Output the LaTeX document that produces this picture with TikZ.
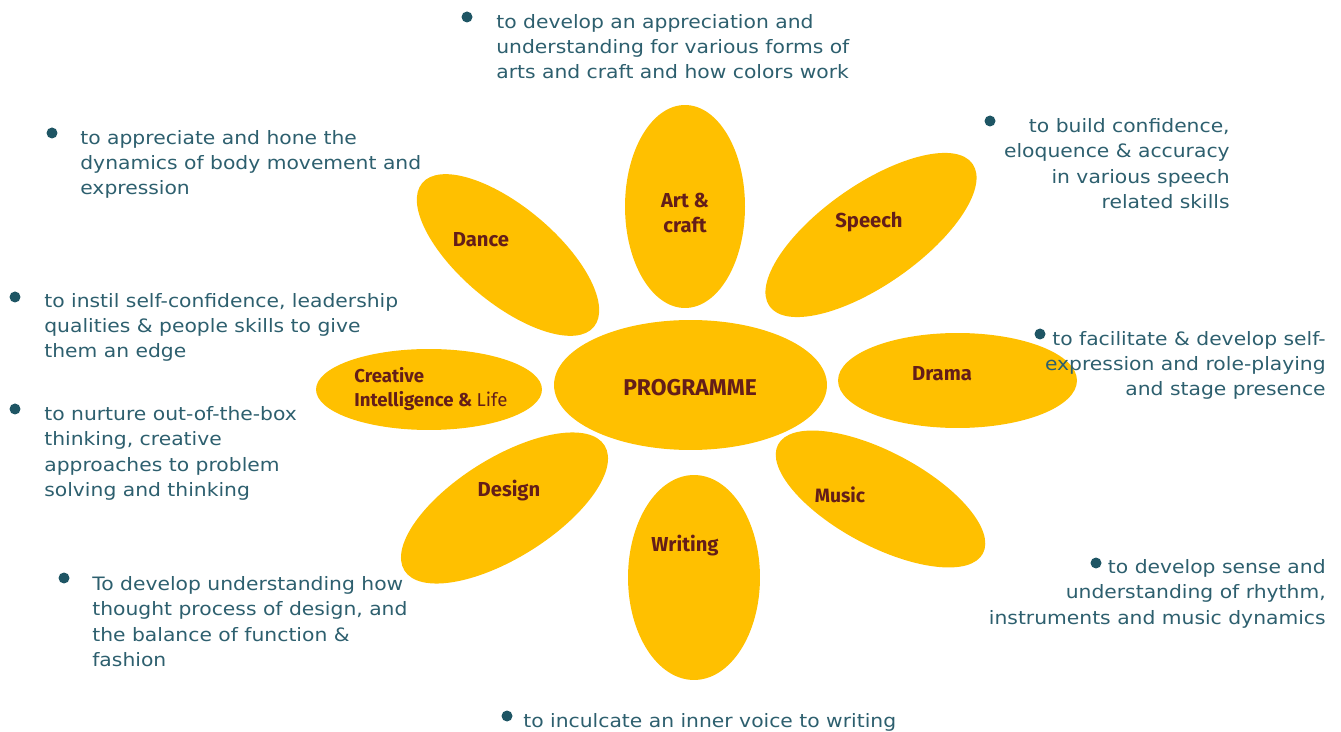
\documentclass[tikz,border=0pt]{standalone}
\usepackage{fontspec}
\usetikzlibrary{shapes.geometric}
\newfontfamily\notefont[FakeStretch=1.10]{DejaVu Sans}
\newfontfamily\petalfont{Fira Sans}
\definecolor{petalgold}{RGB}{255,192,0}
\definecolor{petalink}{RGB}{100,30,25}
\definecolor{noteink}{RGB}{45,95,110}
\definecolor{dotink}{RGB}{30,85,100}
\tikzset{
  petal/.style={ellipse, fill=petalgold, inner sep=0pt},
  petaltext/.style={text=petalink, font=\petalfont\bfseries\fontsize{11.5}{14.7}\selectfont, inner sep=0pt},
  note/.style={text=noteink, font=\notefont\fontsize{10.5}{14.5}\selectfont, inner sep=0pt},
  bulletdot/.style={circle, fill=dotink, minimum size=0.22cm, inner sep=0pt},
}
\begin{document}
\begin{tikzpicture}[x=0.02cm, y=-0.02cm]
  \useasboundingbox (0,0) rectangle (1341,732);
  % petals
  \node[petal, minimum width=2.4cm, minimum height=4.06cm] (art) at (685,206.5) {};
  \node[petal, minimum width=2.64cm, minimum height=4.1cm] (writing) at (694,577.5) {};
  \node[petal, minimum width=4.78cm, minimum height=1.9cm] (drama) at (957.5,380.5) {};
  \node[petal, minimum width=4.52cm, minimum height=1.62cm] (creative) at (429,389.5) {};
  \node[petal, minimum width=4.48cm, minimum height=1.92cm, rotate=-40] (dance) at (508,255) {};
  \node[petal, minimum width=4.96cm, minimum height=2cm, rotate=35] (speech) at (871,235) {};
  \node[petal, minimum width=4.72cm, minimum height=2cm, rotate=32] (design) at (504.5,508) {};
  \node[petal, minimum width=4.64cm, minimum height=1.88cm, rotate=-28] (music) at (880.5,499) {};
  \node[petal, minimum width=5.46cm, minimum height=2.6cm] (prog) at (690.5,385) {};
  % petal labels (base = last line)
  \node[petaltext, anchor=base, font=\petalfont\bfseries\fontsize{13}{15}\selectfont] (l-prog) at (690,396) {PROGRAMME};
  \node[petaltext, anchor=base, align=center] (l-art) at (685,233) {Art \&\\craft};
  \node[petaltext, anchor=base] (l-speech) at (869,228) {Speech};
  \node[petaltext, anchor=base] (l-dance) at (481,247) {Dance};
  \node[petaltext, anchor=base] (l-drama) at (942,381) {Drama};
  \node[petaltext, anchor=base west, align=left, font=\petalfont\bfseries\fontsize{10.6}{13.6}\selectfont] (l-creative) at (354,406.7) {Creative\\Intelligence \& {\mdseries Life}};
  \node[petaltext, anchor=base] (l-design) at (509,497) {Design};
  \node[petaltext, anchor=base, font=\petalfont\bfseries\fontsize{11}{13}\selectfont] (l-music) at (840,502) {Music};
  \node[petaltext, anchor=base] (l-writing) at (685,551) {Writing};
  % bullets
  \node[bulletdot] (b-art) at (467,17) {};
  \node[bulletdot] (b-dance) at (52,133) {};
  \node[bulletdot] (b-speech) at (990,121) {};
  \node[bulletdot] (b-instil) at (15,297) {};
  \node[bulletdot] (b-nurture) at (15,409) {};
  \node[bulletdot] (b-drama) at (1040,334) {};
  \node[bulletdot] (b-music) at (1096,563) {};
  \node[bulletdot] (b-design) at (64,578) {};
  \node[bulletdot] (b-writing) at (507,716) {};
  % notes (base = last line)
  \node[note, anchor=base west, align=left] (t-art) at (496,79)
    {to develop an appreciation and\\understanding for various forms of\\arts and craft and how colors work};
  \node[note, anchor=base west, align=left] (t-dance) at (80,195)
    {to appreciate and hone the\\dynamics of body movement and\\expression};
  \node[note, anchor=base east, align=right] (t-speech) at (1230,208.5)
    {to build confidence,\\eloquence \& accuracy\\in various speech\\related skills};
  \node[note, anchor=base west, align=left] (t-instil) at (44,358)
    {to instil self-confidence, leadership\\qualities \& people skills to give\\them an edge};
  \node[note, anchor=base west, align=left] (t-nurture) at (44,496.5)
    {to nurture out-of-the-box\\thinking, creative\\approaches to problem\\solving and thinking};
  \node[note, anchor=base east, align=right] (t-drama) at (1326,396)
    {to facilitate \& develop self-\\expression and role-playing\\and stage presence};
  \node[note, anchor=base east, align=right] (t-music) at (1326,624)
    {to develop sense and\\understanding of rhythm,\\instruments and music dynamics};
  \node[note, anchor=base west, align=left] (t-design) at (92,666.5)
    {To develop understanding how\\thought process of design, and\\the balance of function \&\\fashion};
  \node[note, anchor=base west] (t-writing) at (523,727) {to inculcate an inner voice to writing};
\end{tikzpicture}
\end{document}
